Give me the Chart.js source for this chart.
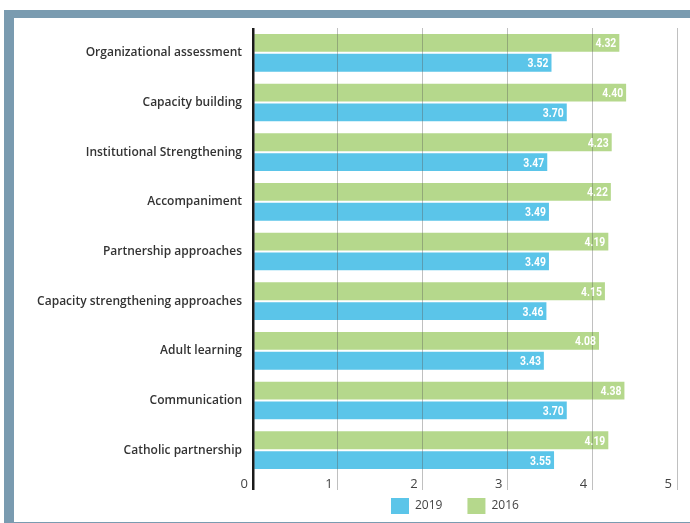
<!DOCTYPE html>
<html><head><meta charset="utf-8">
<script src="https://cdn.jsdelivr.net/npm/chart.js@4"></script>
<style>
html,body{margin:0;padding:0;background:#fff;width:690px;height:523px;overflow:hidden;}
#frame{position:absolute;left:4px;top:10px;width:700px;height:513px;background:#7a9bb0;}
#inner{position:absolute;left:14px;top:18px;width:676px;height:504px;background:#fff;}
canvas{display:block;}
</style></head><body>
<div id="frame"></div>
<div id="inner"><canvas id="c" width="676" height="504"></canvas></div>
<script>
const categories = [
  "Organizational assessment",
  "Capacity building",
  "Institutional Strengthening",
  "Accompaniment",
  "Partnership approaches",
  "Capacity strengthening approaches",
  "Adult learning",
  "Communication",
  "Catholic partnership"
];
const values2016 = [4.32, 4.40, 4.23, 4.22, 4.19, 4.15, 4.08, 4.38, 4.19];
const values2019 = [3.52, 3.70, 3.47, 3.49, 3.49, 3.46, 3.43, 3.70, 3.55];
const xTickLabels = ["0", "1", "2", "3", "4", "5"];
const seriesNames = ["2016", "2019"];

const GREEN = "#b5d88c";
const BLUE = "#5bc5e9";

const valueLabels = {
  id: "valueLabels",
  afterDraw(chart) {
    const ctx = chart.ctx;
    chart.data.datasets.forEach((ds, i) => {
      chart.getDatasetMeta(i).data.forEach((bar, j) => {
        ctx.save();
        ctx.font = 'bold 13px Roboto, "DejaVu Sans", sans-serif';
        ctx.fillStyle = "#ffffff";
        ctx.textAlign = "right";
        ctx.textBaseline = "middle";
        ctx.translate(bar.x - 3, bar.y + 1);
        ctx.scale(0.8, 1.05);
        ctx.fillText(ds.data[j].toFixed(2), 0, 0);
        ctx.restore();
      });
    });
  }
};

const legendPlace = {
  id: "legendPlace",
  afterLayout(chart) {
    const lg = chart.legend;
    if (!lg || !lg.lineWidths) return;
    const pad = lg.options.labels.padding;
    const w = lg.lineWidths[0];
    const startX = 377;
    lg.left = 0;
    lg.right = 2 * startX - pad + w;
    lg.top = 480 - pad;
    lg.bottom = 504;
  }
};

new Chart(document.getElementById("c"), {
  type: "bar",
  data: {
    labels: categories,
    datasets: [
      { label: seriesNames[0], data: values2016, backgroundColor: GREEN, borderWidth: 0,
        categoryPercentage: 0.8, barPercentage: 0.9 },
      { label: seriesNames[1], data: values2019, backgroundColor: BLUE, borderWidth: 0,
        categoryPercentage: 0.8, barPercentage: 0.9 }
    ]
  },
  options: {
    indexAxis: "y",
    responsive: false,
    animation: false,
    devicePixelRatio: 1,
    layout: { padding: { top: 10, right: 13, bottom: 0, left: 0 } },
    scales: {
      x: {
        min: 0, max: 5,
        afterFit(scale) { scale.height = 17; scale.paddingLeft = 0; scale.paddingRight = 0; },
        ticks: {
          stepSize: 1,
          align: "end",
          labelOffset: -5,
          padding: -14,
          color: "#444",
          font: { family: '"Open Sans", sans-serif', size: 13 },
          callback: (v, i) => xTickLabels[i]
        },
        grid: {
          z: 1,
          drawTicks: true,
          tickLength: 15,
          color: (c) => (c.tick && c.tick.value === 0) ? "#1a1a1a" : "rgba(90,90,90,0.38)",
          lineWidth: (c) => (c.tick && c.tick.value === 0) ? 2.5 : 1
        },
        border: { display: false }
      },
      y: {
        afterFit(scale) { scale.width = 239; scale.paddingTop = 0; scale.paddingBottom = 0; },
        grid: { display: false, drawTicks: false },
        border: { display: false },
        ticks: {
          padding: 11,
          color: "#333",
          font: { family: '"Open Sans", sans-serif', size: 12, weight: "600" }
        }
      }
    },
    plugins: {
      legend: {
        position: "bottom",
        reverse: true,
        maxHeight: 30,
        labels: {
          boxWidth: 18,
          boxHeight: 16,
          padding: 25,
          color: "#444",
          font: { family: '"Open Sans", sans-serif', size: 12 }
        }
      },
      tooltip: { enabled: false }
    }
  },
  plugins: [valueLabels, legendPlace]
});
</script>
</body></html>
